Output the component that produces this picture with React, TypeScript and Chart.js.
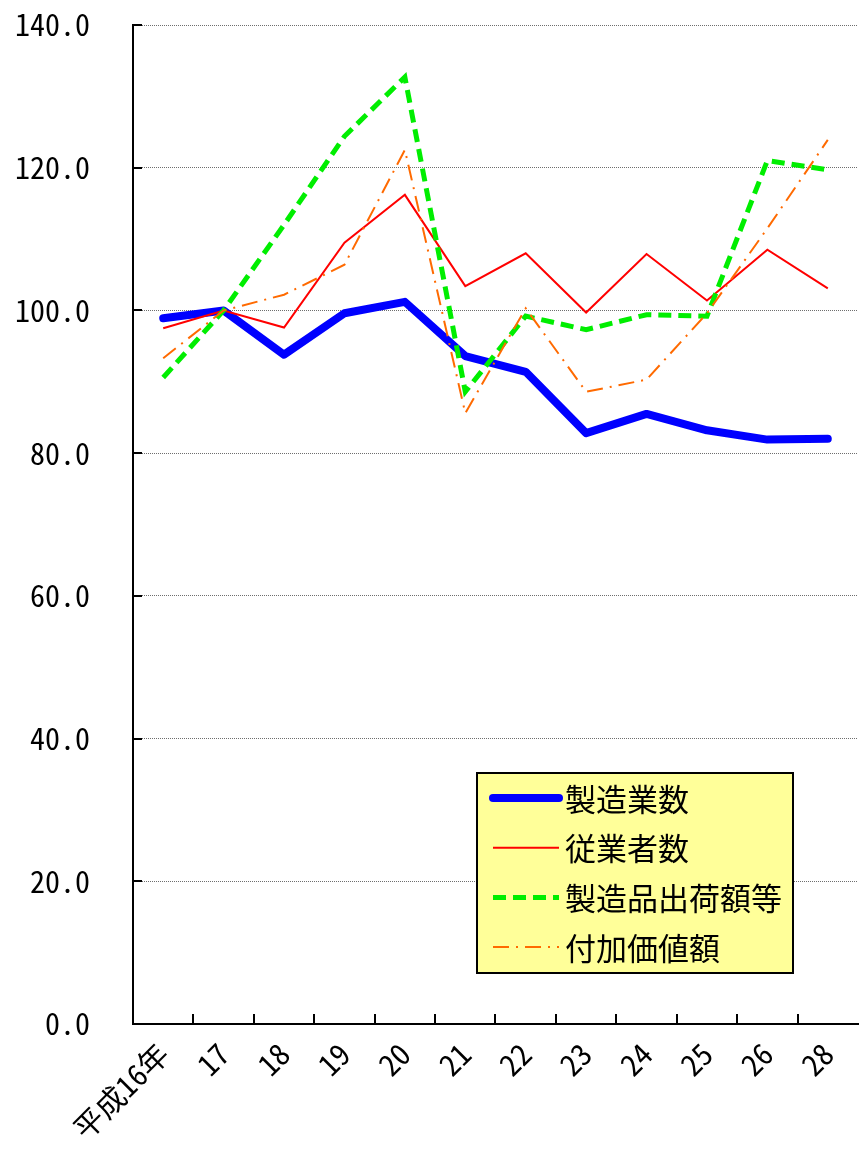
import React, { useEffect, useRef } from "react";
import { Chart, registerables } from "chart.js";

Chart.register(...registerables);

const categories = ["平成16年", "17", "18", "19", "20", "21", "22", "23", "24", "25", "26", "28"];
const establishments = [98.9, 100.0, 93.8, 99.6, 101.2, 93.6, 91.4, 82.8, 85.5, 83.2, 81.9, 82.0];
const employees = [97.5, 100.0, 97.6, 109.5, 116.2, 103.4, 108.0, 99.7, 107.9, 101.4, 108.5, 103.1];
const shipments = [90.6, 100.0, 112.0, 124.4, 132.7, 88.6, 99.2, 97.3, 99.4, 99.2, 121.0, 119.7];
const valueAdded = [93.3, 100.0, 102.2, 106.4, 122.5, 85.6, 100.3, 88.6, 90.3, 99.6, 111.5, 123.9];
const seriesNames = ["製造業数", "従業者数", "製造品出荷額等", "付加価値額"];
const yMin = 0;
const yMax = 140;
const yStep = 20;

const MONO = "'Noto Sans Mono CJK JP', 'Noto Sans CJK JP', 'DejaVu Sans Mono', monospace";
const SANS = "'Noto Sans CJK JP', 'Noto Sans', sans-serif";

const innerTicks = {
  id: "innerTicks",
  beforeDatasetsDraw(chart: any) {
    const { ctx, chartArea } = chart;
    const xs = chart.scales.x;
    const ys = chart.scales.y;
    ctx.save();
    ctx.strokeStyle = "#000";
    ctx.lineWidth = 2;
    ctx.beginPath();
    for (let i = 0; i < ys.ticks.length; i++) {
      const y = Math.round(ys.getPixelForTick(i));
      ctx.moveTo(chartArea.left, y);
      ctx.lineTo(chartArea.left + 9, y);
    }
    for (let i = 1; i < categories.length; i++) {
      const x = Math.round((xs.getPixelForTick(i - 1) + xs.getPixelForTick(i)) / 2);
      ctx.moveTo(x, chartArea.bottom);
      ctx.lineTo(x, chartArea.bottom - 10);
    }
    ctx.stroke();
    ctx.restore();
  },
};

const boxLegend = {
  id: "boxLegend",
  afterDraw(chart: any) {
    const { ctx, chartArea } = chart;
    const bx = chartArea.left + 344;
    const by = chartArea.top + 748;
    const bw = 316;
    const bh = 200;
    ctx.save();
    ctx.fillStyle = "#FFFF99";
    ctx.fillRect(bx, by, bw, bh);
    ctx.strokeStyle = "#000";
    ctx.lineWidth = 2;
    ctx.strokeRect(bx, by, bw, bh);
    chart.data.datasets.forEach((ds: any, i: number) => {
      const ry = by + 25 + i * 49.7;
      ctx.save();
      ctx.strokeStyle = ds.borderColor;
      ctx.lineWidth = ds.borderWidth;
      ctx.lineCap = ds.borderCapStyle || "butt";
      ctx.setLineDash(ds.borderDash || []);
      ctx.beginPath();
      ctx.moveTo(bx + 16, ry);
      ctx.lineTo(bx + 82, ry);
      ctx.stroke();
      ctx.restore();
      ctx.fillStyle = "#000";
      ctx.font = `31px ${SANS}`;
      ctx.textBaseline = "middle";
      ctx.textAlign = "left";
      ctx.fillText(ds.label, bx + 88, ry + 1);
    });
    ctx.restore();
  },
};

export default function App() {
  const ref = useRef<HTMLCanvasElement | null>(null);

  useEffect(() => {
    document.body.style.margin = "0";
    const canvas = ref.current;
    if (!canvas) return;
    const chart = new Chart(canvas, {
      type: "line",
      data: {
        labels: categories,
        datasets: [
          {
            label: seriesNames[0],
            data: establishments,
            borderColor: "#0000FF",
            borderWidth: 8,
            borderCapStyle: "round",
            borderJoinStyle: "round",
            pointRadius: 0,
            tension: 0,
            order: 4,
          },
          {
            label: seriesNames[1],
            data: employees,
            borderColor: "#FF0000",
            borderWidth: 2,
            pointRadius: 0,
            tension: 0,
            order: 3,
          },
          {
            label: seriesNames[2],
            data: shipments,
            borderColor: "#00EE00",
            borderWidth: 5,
            borderDash: [13, 7],
            pointRadius: 0,
            tension: 0,
            order: 2,
          },
          {
            label: seriesNames[3],
            data: valueAdded,
            borderColor: "#FF6A00",
            borderWidth: 2,
            borderDash: [16, 7, 2, 7],
            pointRadius: 0,
            tension: 0,
            order: 1,
          },
        ],
      },
      options: {
        responsive: false,
        animation: false,
        layout: { padding: { top: 25, right: 1, left: 0, bottom: 0 } },
        plugins: {
          legend: { display: false },
          tooltip: { enabled: false },
        },
        scales: {
          x: {
            type: "category",
            offset: true,
            grid: { display: false, offset: true },
            border: { display: true, color: "#000", width: 2 },
            ticks: {
              color: "#000",
              font: { family: MONO, size: 30 },
              maxRotation: 45,
              minRotation: 45,
              autoSkip: false,
              padding: 4,
            },
            afterFit: (s: any) => {
              s.height = 127;
              s.paddingLeft = 0;
              s.paddingRight = 0;
            },
          },
          y: {
            min: yMin,
            max: yMax,
            grid: { color: "#6e6e6e", lineWidth: 1, drawTicks: false },
            border: { display: true, color: "#000", width: 2, dash: [1, 1] },
            ticks: {
              stepSize: yStep,
              color: "#000",
              font: { family: MONO, size: 30 },
              padding: 43,
              callback: (v: any) => Number(v).toFixed(1),
            },
            afterFit: (s: any) => {
              s.width = 133;
              s.paddingTop = 0;
              s.paddingBottom = 0;
            },
          },
        },
      },
      plugins: [innerTicks, boxLegend],
    });
    return () => chart.destroy();
  }, []);

  return (
    <div style={{ width: 859, height: 1151, background: "#fff" }}>
      <canvas ref={ref} width={859} height={1151} style={{ width: 859, height: 1151, display: "block" }} />
    </div>
  );
}
